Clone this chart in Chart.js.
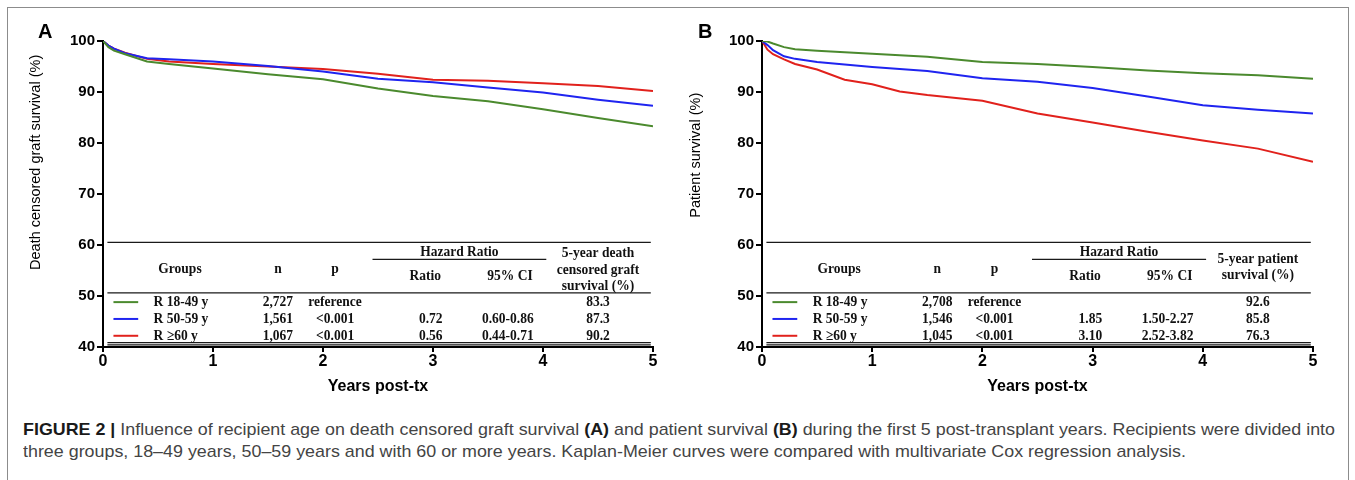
<!DOCTYPE html>
<html>
<head>
<meta charset="utf-8">
<script src="https://cdn.jsdelivr.net/npm/chart.js@4.4.1/dist/chart.umd.min.js"></script>
<style>
  html, body { margin: 0; padding: 0; background: #fff; }
  body { width: 1355px; height: 480px; position: relative; overflow: hidden; }
  .frame { position: absolute; left: 7px; top: 7px; width: 1340px; height: 520px; border: 1px solid #8c8c8c; border-bottom: none; }
  .panel { position: absolute; top: 0; height: 400px; }
  #panelA { left: 0; width: 680px; }
  #panelB { left: 680px; width: 675px; }
  .caption { position: absolute; left: 23px; top: 419px; font-family: 'Liberation Sans Narrow', 'Liberation Sans', Arial, sans-serif; font-size: 17px; line-height: 22px; color: #444; white-space: nowrap; transform-origin: 0 0; }
  .caption b { color: #1a1a1a; }
</style>
</head>
<body>
<div class="frame"></div>
<div class="panel" id="panelA"><canvas id="chartA"></canvas></div>
<div class="panel" id="panelB"><canvas id="chartB"></canvas></div>
<div class="caption" id="caption">
  <span id="capLine1"><b>FIGURE 2 |</b> Influence of recipient age on death censored graft survival <b>(A)</b> and patient survival <b>(B)</b> during the first 5 post-transplant years. Recipients were divided into</span><br>
  <span id="capLine2">three groups, 18–49 years, 50–59 years and with 60 or more years. Kaplan-Meier curves were compared with multivariate Cox regression analysis.</span>
</div>
<script>
// --- data ---
const groupLabels = ['R 18-49 y', 'R 50-59 y', 'R \u226560 y'];
const groupColors = ['#4b8a2e', '#1f24f0', '#e1211c'];
const xTicks = [0, 1, 2, 3, 4, 5];
const yTicks = [40, 50, 60, 70, 80, 90, 100];

// A: death censored graft survival (%)
const timesA = [0, 0.05, 0.1, 0.2, 0.4, 0.6, 1, 1.5, 2, 2.5, 3, 3.5, 4, 4.5, 5];
const graftYoung = [100, 98.8, 98.1, 97.4, 96.0, 95.5, 94.6, 93.5, 92.5, 90.7, 89.2, 88.2, 86.6, 84.9, 83.3];
const graftMid   = [100, 99.1, 98.5, 97.6, 96.6, 96.4, 96.0, 95.1, 94.0, 92.6, 91.9, 90.9, 89.9, 88.5, 87.3];
const graftOld   = [100, 99.1, 98.5, 97.7, 96.5, 96.0, 95.5, 95.0, 94.5, 93.6, 92.4, 92.2, 91.7, 91.2, 90.2];

// B: patient survival (%)
const timesB = [0, 0.05, 0.1, 0.2, 0.3, 0.5, 0.75, 1, 1.25, 1.5, 2, 2.5, 3, 3.5, 4, 4.5, 5];
const patYoung = [100, 99.9, 99.5, 98.8, 98.4, 98.1, 97.8, 97.5, 97.2, 96.9, 95.9, 95.5, 94.9, 94.2, 93.7, 93.3, 92.6];
const patMid   = [100, 99.2, 98.2, 97.0, 96.5, 95.9, 95.4, 94.9, 94.5, 94.1, 92.7, 92.0, 90.8, 89.1, 87.4, 86.5, 85.8];
const patOld   = [100, 98.3, 97.4, 96.4, 95.5, 94.4, 92.4, 91.5, 90.1, 89.4, 88.3, 85.8, 84.0, 82.2, 80.5, 78.9, 76.3];

// tables
const nA = ['2,727', '1,561', '1,067'];
const pA = ['reference', '<0.001', '<0.001'];
const ratioA = ['', '0.72', '0.56'];
const ciA = ['', '0.60-0.86', '0.44-0.71'];
const fiveYearA = ['83.3', '87.3', '90.2'];

const nB = ['2,708', '1,546', '1,045'];
const pB = ['reference', '<0.001', '<0.001'];
const ratioB = ['', '1.85', '3.10'];
const ciB = ['', '1.50-2.27', '2.52-3.82'];
const fiveYearB = ['92.6', '85.8', '76.3'];

const sans = "'Liberation Sans', Arial, sans-serif";
const serif = "'Liberation Serif', 'Times New Roman', serif";

// table + panel letter + y title, drawn in data units through the chart's scales
const kmTable = {
  id: 'kmTable',
  afterDraw(chart, args, opts) {
    const { ctx, scales: { x, y } } = chart;
    const X = v => x.getPixelForValue(v);
    const Y = v => y.getPixelForValue(v);
    ctx.save();

    function hline(x0, x1, v, w) {
      ctx.beginPath();
      ctx.lineWidth = w || 1.3;
      ctx.strokeStyle = '#1a1a1a';
      ctx.moveTo(X(x0), Y(v));
      ctx.lineTo(X(x1), Y(v));
      ctx.stroke();
    }
    function text(s, t, v, align) {
      ctx.save();
      ctx.translate(X(t), Y(v));
      ctx.scale(0.9, 1);
      ctx.textAlign = align || 'center';
      ctx.textBaseline = 'middle';
      ctx.fillText(s, 0, 0);
      ctx.restore();
    }

    hline(0.04, 4.98, 60.5);
    hline(2.45, 4.03, 57.2);
    hline(0.04, 4.98, 50.6);
    hline(0.04, 4.98, 40.85);
    hline(0.04, 4.98, 40.4);

    ctx.fillStyle = '#111';
    ctx.font = 'bold 15px ' + serif;
    text('Hazard Ratio', 3.24, 58.6);
    text('Groups', 0.70, 55.2);
    text('n', 1.59, 55.2);
    text('p', 2.11, 55.2);
    text('Ratio', 2.93, 53.9);
    text('95% CI', 3.70, 53.9);
    opts.fiveHead.forEach((s, i) => text(s, 4.5, opts.fiveHeadY[i]));

    const rowY = [48.8, 45.5, 42.2];
    rowY.forEach((v, i) => {
      ctx.beginPath();
      ctx.lineWidth = 2;
      ctx.strokeStyle = groupColors[i];
      ctx.moveTo(X(0.095), Y(v));
      ctx.lineTo(X(0.32), Y(v));
      ctx.stroke();
      text(groupLabels[i], 0.46, v, 'left');
      text(opts.n[i], 1.59, v);
      text(opts.p[i], 2.11, v);
      text(opts.ratio[i], 2.98, v);
      text(opts.ci[i], 3.68, v);
      text(opts.five[i], 4.5, v);
    });

    // panel letter
    ctx.fillStyle = '#000';
    ctx.font = 'bold 20px ' + sans;
    ctx.textAlign = 'left';
    ctx.textBaseline = 'middle';
    ctx.fillText(opts.letter, opts.letterX, 32);

    // y axis title
    ctx.font = '14.5px ' + sans;
    ctx.textAlign = 'center';
    ctx.translate(opts.titleX, Y(opts.titleMid));
    ctx.rotate(-Math.PI / 2);
    ctx.fillText(opts.yTitle, 0, 0);
    ctx.restore();
  }
};

function series(times, vals, i) {
  return {
    label: groupLabels[i],
    data: times.map((t, k) => ({ x: t, y: vals[k] })),
    borderColor: groupColors[i],
    borderWidth: 2,
    pointRadius: 0,
    tension: 0,
    fill: false
  };
}

function makeChart(id, datasets, axisWidth, padRight, table) {
  return new Chart(document.getElementById(id).getContext('2d'), {
    type: 'line',
    data: { datasets: datasets },
    options: {
      responsive: true,
      maintainAspectRatio: false,
      animation: false,
      layout: { padding: { top: 41, right: padRight, bottom: 0, left: 0 } },
      plugins: { legend: { display: false }, tooltip: { enabled: false }, kmTable: table },
      scales: {
        x: {
          type: 'linear', min: 0, max: 5,
          afterBuildTicks: s => { s.ticks = xTicks.map(v => ({ value: v })); },
          afterFit: s => { s.height = 53; },
          border: { display: true, color: '#000', width: 2 },
          grid: { drawOnChartArea: false, drawTicks: true, tickLength: 5, color: '#000', lineWidth: 2 },
          ticks: { color: '#000', padding: 0, font: { family: sans, size: 16, weight: 'bold' }, maxRotation: 0 },
          title: { display: true, text: 'Years post-tx', color: '#000', padding: { top: 1 }, font: { family: sans, size: 16, weight: 'bold' } }
        },
        y: {
          min: 40, max: 100,
          afterBuildTicks: s => { s.ticks = yTicks.map(v => ({ value: v })); },
          afterFit: s => { s.width = axisWidth; },
          border: { display: true, color: '#000', width: 2 },
          grid: { drawOnChartArea: false, drawTicks: true, tickLength: 6, color: '#000', lineWidth: 2 },
          ticks: { color: '#000', padding: 2, font: { family: sans, size: 15, weight: 'bold' } }
        }
      }
    },
    plugins: [kmTable]
  });
}

makeChart('chartA', [series(timesA, graftYoung, 0), series(timesA, graftMid, 1), series(timesA, graftOld, 2)], 103, 27, {
  letter: 'A', letterX: 38, titleX: 36, titleMid: 76.2,
  yTitle: 'Death censored graft survival (%)',
  fiveHead: ['5-year death', 'censored graft', 'survival (%)'], fiveHeadY: [58.5, 55.1, 51.9],
  n: nA, p: pA, ratio: ratioA, ci: ciA, five: fiveYearA
});

makeChart('chartB', [series(timesB, patYoung, 0), series(timesB, patMid, 1), series(timesB, patOld, 2)], 82, 42, {
  letter: 'B', letterX: 18, titleX: 16, titleMid: 77.6,
  yTitle: 'Patient survival (%)',
  fiveHead: ['5-year patient', 'survival (%)'], fiveHeadY: [57.3, 54.0],
  n: nB, p: pB, ratio: ratioB, ci: ciB, five: fiveYearB
});

// stretch the caption lines to the width used in the figure
const cap = document.getElementById('caption');
const w1 = document.getElementById('capLine1').getBoundingClientRect().width;
cap.style.transform = 'scaleX(' + (1312 / w1) + ')';
</script>
</body>
</html>
